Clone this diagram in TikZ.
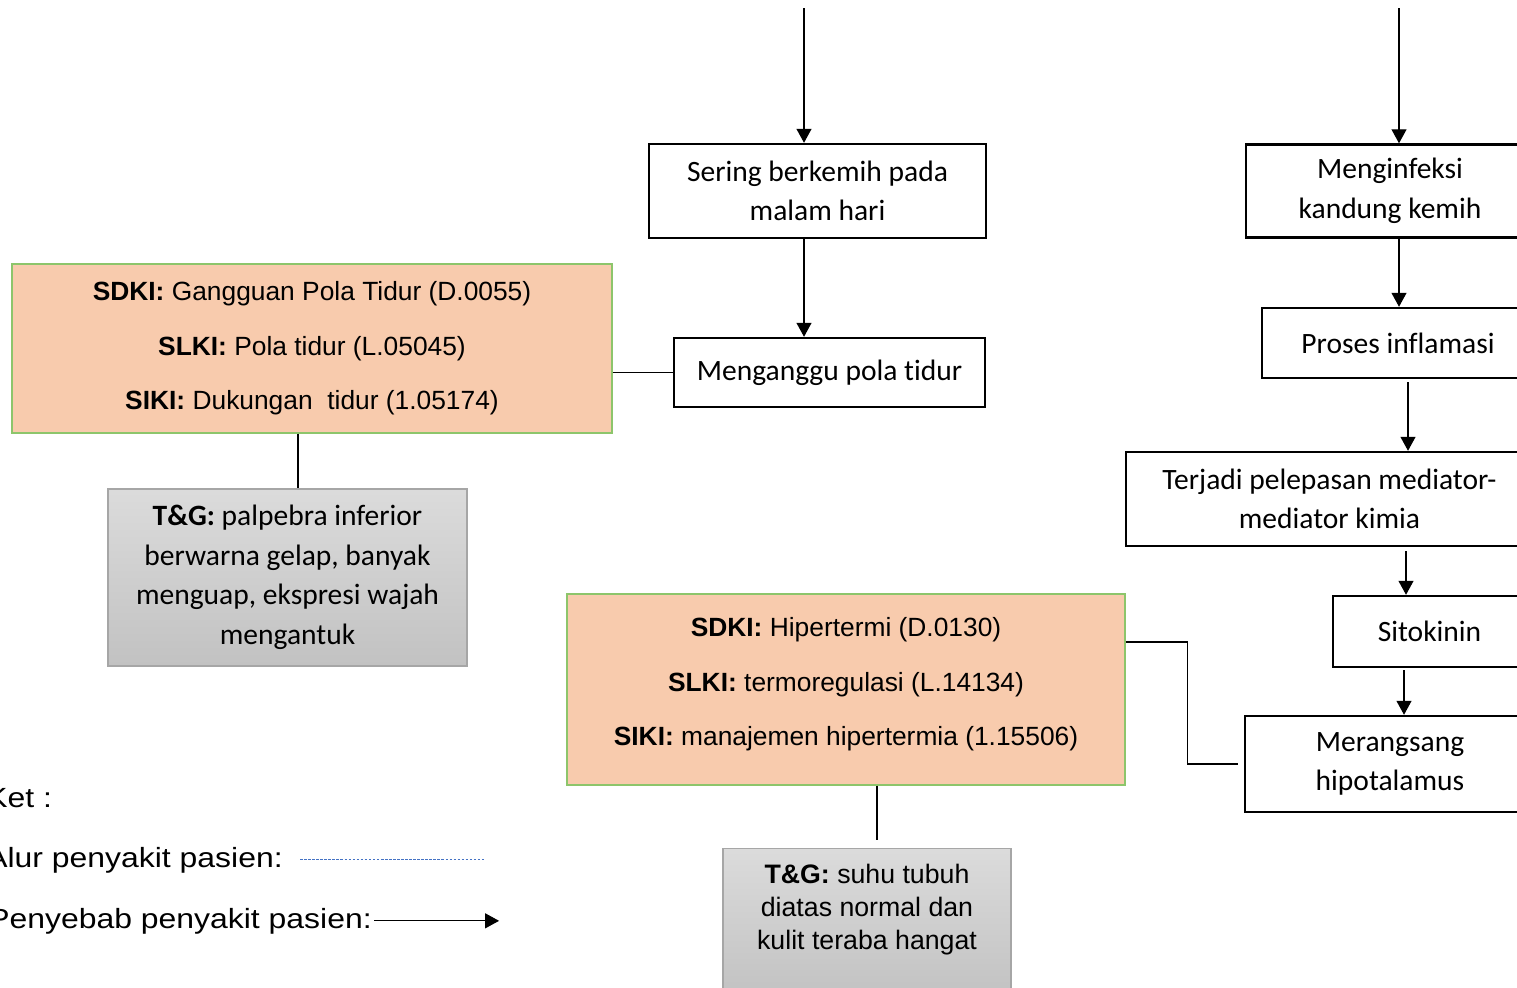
\documentclass[tikz,border=0pt]{standalone}
\usepackage{fontspec}
\setmainfont{Carlito}[Ligatures=NoCommon]
\newfontfamily\arialfont{Liberation Sans}
\newfontfamily\ketfont{Liberation Sans}[FakeStretch=1.15]
\usetikzlibrary{arrows.meta}
\definecolor{peach}{HTML}{F8CBAD}
\definecolor{leaf}{HTML}{8DC56B}
\definecolor{greyedge}{HTML}{A6A6A6}
\definecolor{alurblue}{HTML}{4472C4}
\begin{document}
\begin{tikzpicture}[x=0.02cm,y=-0.02cm,
  proc/.style={draw,line width=1.4pt,align=center,font=\fontsize{16.8}{22.5}\selectfont},
  diag/.style={draw=leaf,line width=0.8pt,fill=peach,align=center,font=\arialfont\fontsize{15}{31}\selectfont},
  tandag/.style={draw=greyedge,line width=0.8pt,top color=gray!28,bottom color=gray!48,align=center},
  arr/.style={line width=0.7pt,-{Triangle[width=0.3cm,length=0.28cm]}},
  link/.style={line width=0.7pt}]
\useasboundingbox (0,0) rectangle (1517,987);
% alur kiri
\coordinate (topA) at (804,8);
\node[proc,minimum width=6.74cm,minimum height=1.88cm] (sering) at (817.5,191) {Sering berkemih pada\\malam hari};
\node[proc,minimum width=6.22cm,minimum height=1.38cm] (ganggu) at (829.5,372.5) {Menganggu pola tidur};
\draw[arr] (topA) -- (topA |- sering.north);
\draw[arr] (topA |- sering.south) -- (topA |- ganggu.north);
% alur kanan
\coordinate (topB) at (1399,8);
\node[proc,minimum width=5.76cm,minimum height=1.86cm] (infeksi) at (1390,191) {Menginfeksi\\kandung kemih};
\node[proc,minimum width=5.44cm,minimum height=1.40cm] (inflamasi) at (1398,343) {Proses inflamasi};
\node[proc,minimum width=8.14cm,minimum height=1.88cm] (mediator) at (1329.5,499) {Terjadi pelepasan mediator-\\mediator kimia};
\node[proc,minimum width=3.86cm,minimum height=1.42cm] (sitokinin) at (1429.5,631.5) {Sitokinin};
\node[proc,minimum width=5.80cm,minimum height=1.92cm] (hipo) at (1390,764) {Merangsang\\hipotalamus};
\draw[arr] (topB) -- (topB |- infeksi.north);
\draw[arr] (topB |- infeksi.south) -- (topB |- inflamasi.north);
\draw[arr] ([xshift=0.2cm,yshift=-0.06cm]inflamasi.south) -- ([xshift=0.2cm]inflamasi.south |- mediator.north);
\draw[arr] ([xshift=-0.47cm,yshift=-0.08cm]sitokinin.north |- mediator.south) -- ([xshift=-0.47cm]sitokinin.north);
\draw[arr] ([xshift=0.28cm,yshift=-0.04cm]hipo.north |- sitokinin.south) -- ([xshift=0.28cm]hipo.north);
% diagnosa
\node[diag,minimum width=12cm,minimum height=3.38cm] (sdki1) at (312,348.5) {\textbf{SDKI:} Gangguan Pola Tidur (D.0055)\\\textbf{SLKI:} Pola tidur (L.05045)\\\textbf{SIKI:} Dukungan\ \ tidur (1.05174)};
\node[tandag,minimum width=7.18cm,minimum height=3.54cm,font=\fontsize{16.8}{22.5}\selectfont] (tg1) at (287.5,577.5) {\textbf{T\&G:} palpebra inferior\\berwarna gelap, banyak\\menguap, ekspresi wajah\\mengantuk};
\draw[link] (sdki1.east |- ganggu.west) -- (ganggu.west);
\draw[link] ([xshift=0.21cm]tg1.north |- sdki1.south) -- ([xshift=0.21cm]tg1.north);
\node[diag,minimum width=11.16cm,minimum height=3.82cm] (sdki2) at (846,689.5) {\textbf{SDKI:} Hipertermi (D.0130)\\\textbf{SLKI:} termoregulasi (L.14134)\\\textbf{SIKI:} manajemen hipertermia (1.15506)\\[-22pt]\mbox{}};
\node[tandag,anchor=north,minimum width=5.76cm,inner ysep=0.3cm,font=\arialfont\fontsize{15.2}{18.8}\selectfont] (tg2) at (867,848) {\textbf{T\&G:} suhu tubuh\\diatas normal dan\\kulit teraba hangat\\ \mbox{}};
\draw[link] ([yshift=0.95cm]sdki2.east) -- ++(62,0) |- ([xshift=-0.12cm]hipo.west);
\draw[link,shorten >=0.16cm] ([xshift=0.62cm]sdki2.south) -- ([xshift=0.62cm]sdki2.south |- tg2.north);
% keterangan
\node[anchor=base west,inner sep=0,font=\ketfont\fontsize{15.8}{18}\selectfont] (ket) at (-14,807) {Ket :};
\node[anchor=base west,inner sep=0,font=\ketfont\fontsize{15.8}{18}\selectfont] (alur) at (-14,867) {Alur penyakit pasien:};
\node[anchor=base west,inner sep=0,font=\ketfont\fontsize{15.8}{18}\selectfont] (sebab) at (-12,928) {Penyebab penyakit pasien:};
\draw[alurblue,line width=0.5pt,dash pattern=on 1.5pt off 0.8pt] ([xshift=0.34cm]alur.east) -- ++(184,0);
\draw[arr] ([xshift=0.04cm]sebab.east) -- ++(125,0);
\end{tikzpicture}
\end{document}
